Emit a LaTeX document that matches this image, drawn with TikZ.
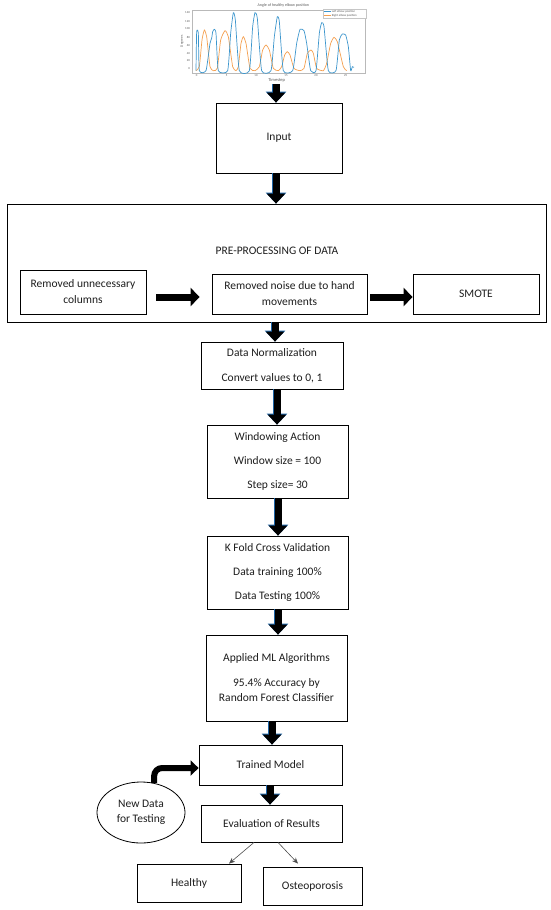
\documentclass[tikz,border=0pt]{standalone}
\usepackage{fontspec}
\setmainfont{Carlito}
\usetikzlibrary{arrows.meta,shapes.geometric}
\definecolor{edgeblue}{RGB}{30,100,165}
\definecolor{plotblue}{RGB}{60,150,205}
\definecolor{plotorange}{RGB}{245,160,80}
\definecolor{txt}{RGB}{30,30,30}
\begin{document}
\begin{tikzpicture}[x=1pt,y=-1pt,
  box/.style={draw, line width=0.8pt, inner sep=0pt, align=center, text=txt, font=\fontsize{11.5}{15}\selectfont},
  plain/.style={inner sep=0pt, text=txt, font=\fontsize{11.5}{15}\selectfont},
  bigarrow/.style={black, line width=7pt, -{Triangle[width=18pt,length=10pt]},
     preaction={draw=edgeblue, line width=8.2pt, -{Triangle[width=20pt,length=11pt]}}},
  harrow/.style={black, line width=7pt, -{Triangle[width=18pt,length=9pt]}},
  curvearrow/.style={black, line width=6pt, rounded corners=8pt, -{Triangle[width=15pt,length=8pt]}},
  thinarrow/.style={gray!60!black, line width=0.6pt, -{Stealth[length=6pt,width=5pt]}},
  tiny/.style={inner sep=0pt, text=gray!70!black}
]
\useasboundingbox (0,0) rectangle (550,910);
\fill[white] (0,0) rectangle (550,910);

% ---------- plot ----------
\begin{scope}[shift={(180,0)}, x=0.33333pt, y=-0.33333pt]
  \draw[gray!55, line width=0.3pt] (35,30) rectangle (555,218);
  \draw[plotorange, line width=0.7pt] plot[smooth, tension=0.3] coordinates {
    (48,212)(58,200)(66,120)(73,90)(80,110)(90,200)(100,212)(112,205)(122,120)(135,92)(145,110)(158,200)
    (168,212)(175,200)(183,130)(190,110)(198,130)(210,205)(225,212)(238,200)(248,150)(258,135)(268,150)
    (280,205)(295,212)(305,200)(314,165)(322,155)(330,165)(342,205)(360,212)(372,205)(382,160)(393,150)
    (400,160)(410,205)(430,212)(440,190)(452,130)(462,112)(472,125)(490,200)(500,212)};
  \draw[plotblue, line width=0.7pt] plot[smooth, tension=0.3] coordinates {
    (48,212)(50,95)(55,100)(58,212)(78,212)(90,130)(95,115)(98,95)(103,88)(108,100)(115,212)(143,212)
    (152,100)(160,38)(166,60)(178,212)(208,212)(218,80)(225,38)(232,55)(245,212)(273,212)(283,110)
    (292,50)(298,65)(310,212)(338,212)(350,130)(360,88)(372,92)(380,130)(392,212)(408,212)(418,100)
    (425,68)(432,80)(445,212)(468,212)(478,120)(487,102)(497,105)(505,140)(512,212)(517,200)(522,202)};
  \foreach \yy/\lab [count=\i] in {205/0,183/20,160/40,135/60,112/80,85/100,65/120,38/140}
    \node[tiny, font=\fontsize{3}{3}\selectfont, anchor=east] (yt\i) at (30,\yy) {\lab};
  \foreach \xx/\lab [count=\i] in {50/0,140/5,228/10,318/15,408/20,497/25}
    \node[tiny, font=\fontsize{3}{3}\selectfont] (xt\i) at (\xx,228) {\lab};
  \node[tiny, font=\fontsize{4}{4}\selectfont] (ptitle) at (310,16) {Angle of healthy elbow position};
  \node[tiny, font=\fontsize{4.5}{4.5}\selectfont] (pxl) at (290,240) {Timestep};
  \node[tiny, font=\fontsize{3.5}{3.5}\selectfont, rotate=90] (pyl) at (6,124) {Degrees};
  \draw[gray!45, line width=0.2pt, fill=white] (428,26) rectangle (557,55);
  \draw[plotblue, line width=0.6pt] (433,34) -- (452,34);
  \node[tiny, font=\fontsize{3}{3}\selectfont, anchor=west] (lg1) at (455,34) {Left elbow position};
  \draw[plotorange, line width=0.6pt] (433,46) -- (452,46);
  \node[tiny, font=\fontsize{3}{3}\selectfont, anchor=west] (lg2) at (455,46) {Right elbow position};
\end{scope}

% ---------- boxes ----------
\node[box, minimum width=126pt, minimum height=70pt] (input) at (279,138) {Input};
\node[box, minimum width=539pt, minimum height=118pt] (pre) at (276.5,263) {};
\node[plain] (pretitle) at (277,251) {PRE-PROCESSING OF DATA};
\node[box, minimum width=126pt, minimum height=44pt] (rem1) at (83,292) {Removed unnecessary\\[1pt]columns};
\node[box, minimum width=155pt, minimum height=40pt] (rem2) at (289.5,294) {Removed noise due to hand\\[1pt]movements};
\node[box, minimum width=126pt, minimum height=40pt] (smote) at (476,294) {SMOTE};
\node[box, minimum width=142pt, minimum height=47pt] (dn) at (272,365.5) {Data Normalization\\[10pt]Convert values to 0, 1};
\node[box, minimum width=141pt, minimum height=73pt] (win) at (277.5,461.5) {Windowing Action\\[9pt]Window size = 100\\[9pt]Step size= 30};
\node[box, minimum width=141pt, minimum height=73pt] (kf) at (277.5,572.5) {K Fold Cross Validation\\[9pt]Data training 100\%\\[9pt]Data Testing 100\%};
\node[box, minimum width=141pt, minimum height=86pt] (ml) at (276.5,678) {Applied ML Algorithms\\[10pt]95.4\% Accuracy by\\Random Forest Classifier};
\node[box, minimum width=143pt, minimum height=40pt] (tm) at (270.5,765) {Trained Model};
\node[box, minimum width=141pt, minimum height=37pt] (ev) at (271.5,823.5) {Evaluation of Results};
\node[box, minimum width=104pt, minimum height=38pt] (healthy) at (189,883) {Healthy};
\node[box, minimum width=99pt, minimum height=38pt] (osteo) at (312.5,886) {Osteoporosis};
\node[box, ellipse, minimum width=88pt, minimum height=61pt] (nd) at (141,812.5) {New Data\\for Testing};

% ---------- connectors ----------
\coordinate (plotend) at (276,84);
\coordinate (ax1) at (276,0);
\coordinate (ax2) at (275,0);
\coordinate (ax3) at (277,0);
\coordinate (ax4) at (278,0);
\coordinate (ax5) at (272,0);
\coordinate (ax6) at (270,0);
\coordinate (hy) at (0,297);

\draw[bigarrow] (plotend) -- (input.north -| plotend);
\draw[bigarrow] (input.south -| ax1) -- (pre.north -| ax1);
\draw[bigarrow] (pre.south -| ax2) -- (dn.north -| ax2);
\draw[bigarrow] (dn.south -| ax3) -- (win.north -| ax3);
\draw[bigarrow] (win.south -| ax4) -- (kf.north -| ax4);
\draw[bigarrow] (kf.south -| ax4) -- (ml.north -| ax4);
\draw[bigarrow] (ml.south -| ax5) -- (tm.north -| ax5);
\draw[bigarrow] (tm.south -| ax6) -- (ev.north -| ax6);

\draw[harrow, shorten <=10pt, shorten >=12pt] (rem1.east |- hy) -- (rem2.west |- hy);
\draw[harrow, shorten <=3pt] (rem2.east |- hy) -- (smote.west |- hy);

\draw[curvearrow] (nd.66) |- ([yshift=-3pt]tm.west);

\draw[thinarrow] ([xshift=-17.5pt]ev.south) -- ([xshift=40pt]healthy.north);
\draw[thinarrow] ([xshift=6.5pt]ev.south) -- ([xshift=-14.5pt,yshift=3pt]osteo.north);
\end{tikzpicture}
\end{document}
